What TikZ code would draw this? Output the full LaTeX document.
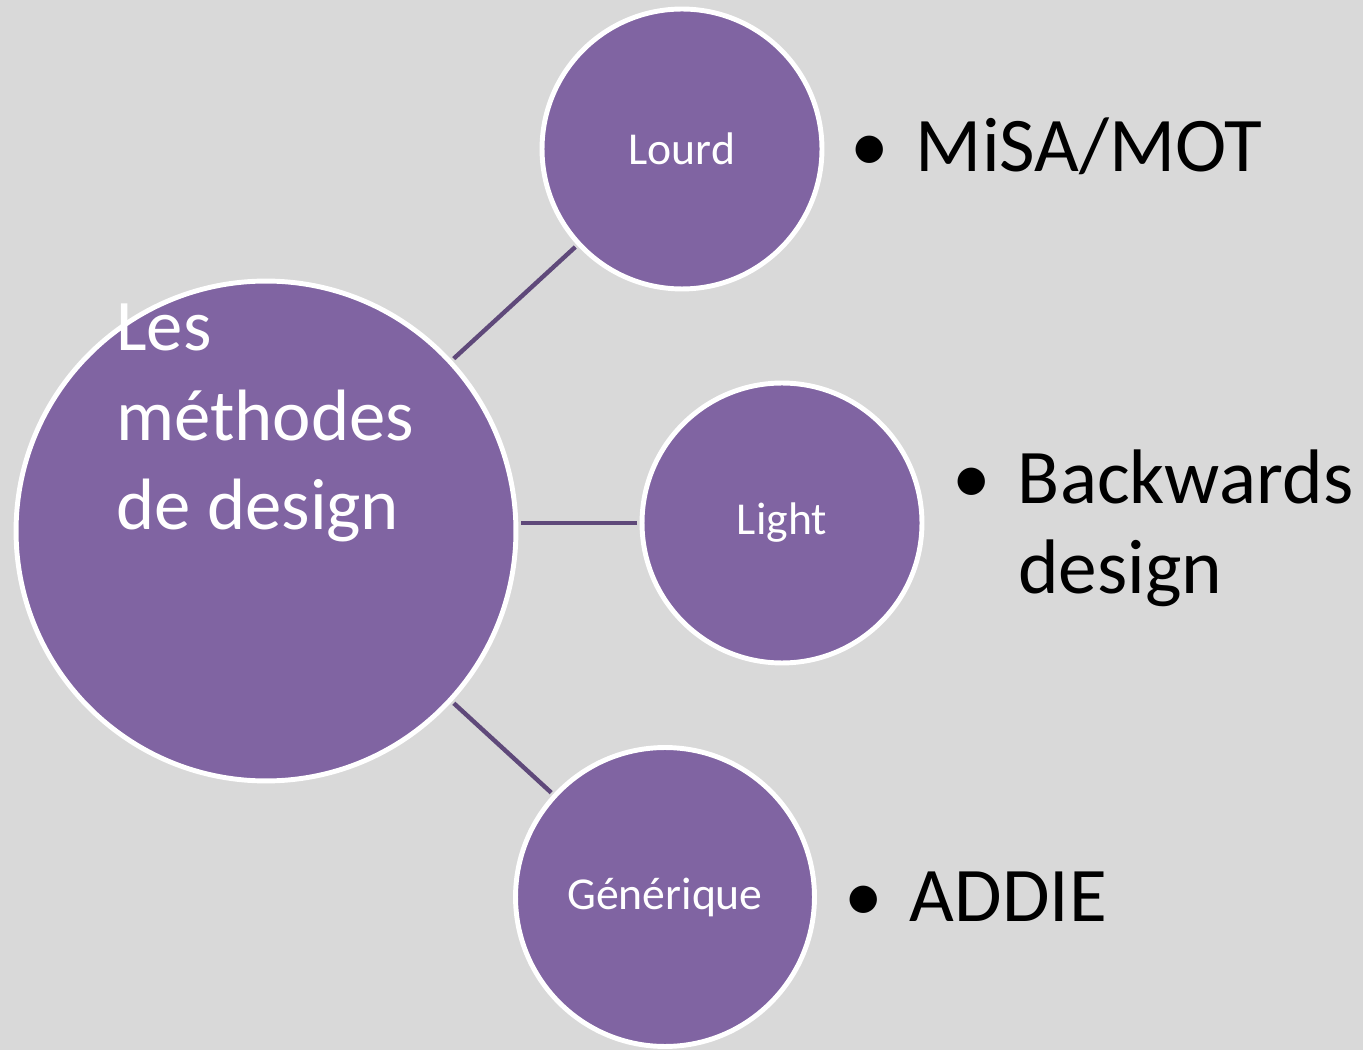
\documentclass[tikz,border=0pt]{standalone}
\usepackage{fontspec}
\setmainfont{Carlito}
\usetikzlibrary{positioning}
\definecolor{fondgris}{HTML}{D9D9D9}
\definecolor{methviolet}{HTML}{8064A2}
\definecolor{lienviolet}{HTML}{5F497A}
\newcommand{\puce}{\makebox[37.4pt][l]{\textbullet}}

\begin{document}
\begin{tikzpicture}[x=0.02cm, y=-0.02cm,
    bulle/.style={circle, draw=white, line width=2.8pt, fill=methviolet,
      text=white, inner sep=0pt, font=\fontsize{26}{31}\selectfont},
    lien/.style={draw=lienviolet, line width=2.5pt, shorten <=1.4pt, shorten >=1.4pt},
    puces/.style={anchor=base west, inner sep=0pt, align=left,
      font=\fontsize{44}{51.6}\selectfont}]
        \useasboundingbox (0,0) rectangle (1363,1050);
        \fill[fondgris] (0,0) rectangle (1363,1050);
        \node[bulle, minimum size=10cm] (methodes) at (266,531) {};
        \node[bulle, minimum size=5.6cm] (lourd) at (682,149) {Lourd};
        \node[bulle, minimum size=5.6cm] (light) at (782,523) {Light};
        \node[bulle, minimum size=5.98cm] (generique) at (665,897) {Générique};
        \node[anchor=base west, inner sep=0pt, align=left, text=white,
          font=\fontsize{41.4}{51}\selectfont] (titre) at (116,530)
          {Les\\méthodes\\de design};
        \draw[lien] (methodes) -- (lourd);
        \draw[lien] (light) -- (light -| methodes.east);
        \draw[lien] (methodes) -- (generique);
        \node[puces] (misa) at (850,172) {\puce MiSA/MOT};
        \node[puces] (backwards) at (952,594) {\puce Backwards\\\hspace*{37.4pt}design};
        \node[puces] (addie) at (844,921) {\puce ADDIE};
    \end{tikzpicture}
\end{document}
